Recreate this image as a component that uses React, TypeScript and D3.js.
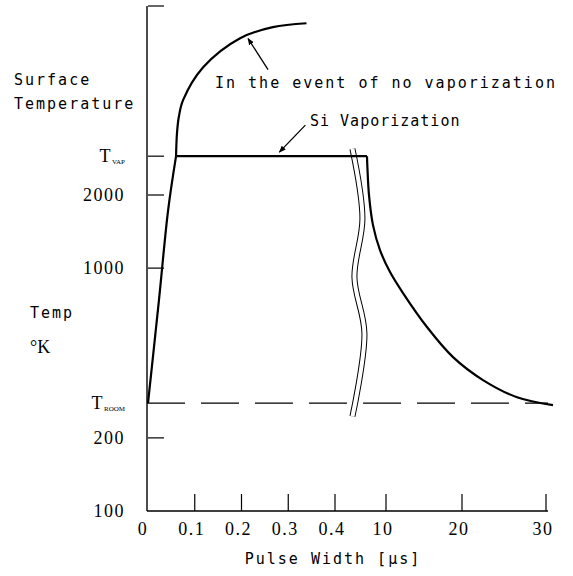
import React, { useEffect, useRef } from 'react';
import * as d3 from 'd3';

// x axis is broken between 0.4 and 10 us
const xTickValues = [0, 0.1, 0.2, 0.3, 0.4, 10, 20, 30];
const xTickLabels = ['0', '0.1', '0.2', '0.3', '0.4', '10', '20', '30'];

// temperature ticks (K); T_ROOM / T_VAP positions
const yTickValues = [100, 200, 278, 1000, 2000, 2890];
const yTickLabels = ['100', '200', 'T|ROOM', '1000', '2000', 'T|VAP'];
const yTop = 12000;
const tRoom = 278;
const tVap = 2890;

// heating ramp
const heatTime = [0, 0.0235, 0.043, 0.06];
const heatTemp = [278, 740, 1730, 2890];

// "In the event of no vaporization"
const noVapTime = [0.06, 0.062, 0.066, 0.075, 0.118, 0.197, 0.267, 0.339];
const noVapTemp = [2890, 3594, 4200, 4914, 6714, 8846, 9817, 10190];

// plateau at vaporization temperature
const plateauTime = [0.062, 6.42];

// cooling after the pulse
const coolTime = [6.42, 6.5, 6.8, 7.55, 8.87, 10.53, 12.24, 15.39, 18.82, 22.5, 26.55, 30.83];
const coolTemp = [2890, 2600, 1996, 1503, 1186, 963, 789, 572, 430, 346, 294, 273];

const breakTime = 5;

export default function App() {
  const ref = useRef<SVGSVGElement>(null);

  useEffect(() => {
    const svg = d3.select(ref.current);
    svg.selectAll('*').remove();

    const x = d3.scaleLinear().domain([0, 0.4, 10, 20, 30]).range([148, 335, 386, 462, 546]);
    const y = d3.scaleLog().domain([100, 2000]).range([511, 195]);

    const mono = '"DejaVu Sans Mono", monospace';
    const serif = '"Liberation Serif", serif';

    // break symbol (drawn first so curves sit on top)
    const cx = x(breakTime);
    const by0 = y(3100);
    const by1 = y(245);
    const wig: [number, number][] = [
      [cx - 7, by0],
      [cx + 3, by0 + (by1 - by0) * 0.26],
      [cx - 5, by0 + (by1 - by0) * 0.48],
      [cx + 5, by0 + (by1 - by0) * 0.69],
      [cx - 7, by1],
    ];
    const wigPath = d3.line().curve(d3.curveCatmullRom)(wig) as string;

    // dashed room temperature line
    svg.append('line')
      .attr('x1', 147).attr('x2', 548)
      .attr('y1', y(tRoom)).attr('y2', y(tRoom))
      .attr('stroke', '#000').attr('stroke-width', 1.4)
      .attr('stroke-dasharray', '38 16');

    svg.append('path').attr('d', wigPath).attr('fill', 'none')
      .attr('stroke', '#000').attr('stroke-width', 6);
    svg.append('path').attr('d', wigPath).attr('fill', 'none')
      .attr('stroke', '#fff').attr('stroke-width', 4);

    // axes
    svg.append('line').attr('x1', 147).attr('x2', 147).attr('y1', y(yTop)).attr('y2', 511)
      .attr('stroke', '#000').attr('stroke-width', 1.4);
    svg.append('line').attr('x1', 147).attr('x2', 548).attr('y1', 511).attr('y2', 511)
      .attr('stroke', '#000').attr('stroke-width', 1.4);

    // y ticks
    const yt = [yTop, ...yTickValues.filter((v) => v !== 100 && v !== tRoom)];
    svg.selectAll('.ytick').data(yt).enter().append('line')
      .attr('x1', 148).attr('x2', 164)
      .attr('y1', (d) => y(d)).attr('y2', (d) => y(d))
      .attr('stroke', '#000').attr('stroke-width', 1.2);

    yTickValues.forEach((v, i) => {
      const lab = yTickLabels[i];
      const t = svg.append('text')
        .attr('x', 125).attr('y', y(v) + 6)
        .attr('text-anchor', 'end')
        .attr('font-family', serif).attr('font-size', 18)
        .attr('letter-spacing', 1.5);
      if (lab.includes('|')) {
        const [main, sub] = lab.split('|');
        t.append('tspan').text(main);
        t.append('tspan').attr('font-size', 7).attr('letter-spacing', 0).attr('dy', 2).text(sub);
      } else {
        t.text(lab);
      }
    });

    // x ticks
    svg.selectAll('.xtick').data(xTickValues.filter((v) => v > 0)).enter().append('line')
      .attr('x1', (d) => x(d)).attr('x2', (d) => x(d))
      .attr('y1', 494).attr('y2', 511)
      .attr('stroke', '#000').attr('stroke-width', 1.2);
    svg.selectAll('.xlab').data(xTickValues).enter().append('text')
      .attr('x', (d) => x(d) - (d === 0 ? 5 : 3))
      .attr('y', 535)
      .attr('text-anchor', 'middle')
      .attr('font-family', serif).attr('font-size', 18)
      .attr('letter-spacing', 1.5)
      .text((d, i) => xTickLabels[i]);

    // curves
    const line = d3.line<[number, number]>().x((d) => x(d[0])).y((d) => y(d[1]));
    const curve = (pts: [number, number][], c: d3.CurveFactory) =>
      svg.append('path')
        .attr('d', line.curve(c)(pts) as string)
        .attr('fill', 'none').attr('stroke', '#000').attr('stroke-width', 2.2)
        .attr('stroke-linejoin', 'round');

    curve(heatTime.map((t, i) => [t, heatTemp[i]]), d3.curveCatmullRom);
    curve(noVapTime.map((t, i) => [t, noVapTemp[i]]), d3.curveCatmullRom);
    curve(plateauTime.map((t) => [t, tVap]), d3.curveLinear);
    curve(coolTime.map((t, i) => [t, coolTemp[i]]), d3.curveCatmullRom);

    // arrows
    const defs = svg.append('defs');
    defs.append('marker').attr('id', 'ah')
      .attr('viewBox', '0 0 10 10').attr('refX', 9).attr('refY', 5)
      .attr('markerWidth', 7).attr('markerHeight', 7).attr('orient', 'auto')
      .attr('markerUnits', 'userSpaceOnUse')
      .append('path').attr('d', 'M0,1 L10,5 L0,9 Z').attr('fill', '#000');

    const arrow = (tip: [number, number], dx: number, dy: number, off: number) => {
      const tx = x(tip[0]);
      const ty = y(tip[1]) + off;
      svg.append('line')
        .attr('x1', tx + dx).attr('y1', ty + dy)
        .attr('x2', tx).attr('y2', ty)
        .attr('stroke', '#000').attr('stroke-width', 1.3)
        .attr('marker-end', 'url(#ah)');
    };
    arrow([0.214, 8900], 20, 31, 1);
    arrow([0.281, tVap], 26, -27, -4);

    // texts
    const txt = (s: string, tx: number, ty: number, fam = mono, anchor = 'start') =>
      svg.append('text').attr('x', tx).attr('y', ty)
        .attr('font-family', fam).attr('font-size', 15)
        .attr('letter-spacing', 2).attr('text-anchor', anchor).text(s);

    txt('In the event of no vaporization', 215, 88);
    txt('Si Vaporization', 310, 126).attr('letter-spacing', 1);
    txt('Surface', 14, 85);
    txt('Temperature', 14, 109);
    txt('Temp', 30, 318);
    svg.append('text').attr('x', 30).attr('y', 353)
      .attr('font-family', serif).attr('font-size', 18).text('°K');
    txt('Pulse Width [μs]', 333, 564, mono, 'middle');
  }, []);

  return (
    <svg
      ref={ref}
      width={573}
      height={576}
      style={{ position: 'absolute', left: 0, top: 0, background: '#fff' }}
    />
  );
}
